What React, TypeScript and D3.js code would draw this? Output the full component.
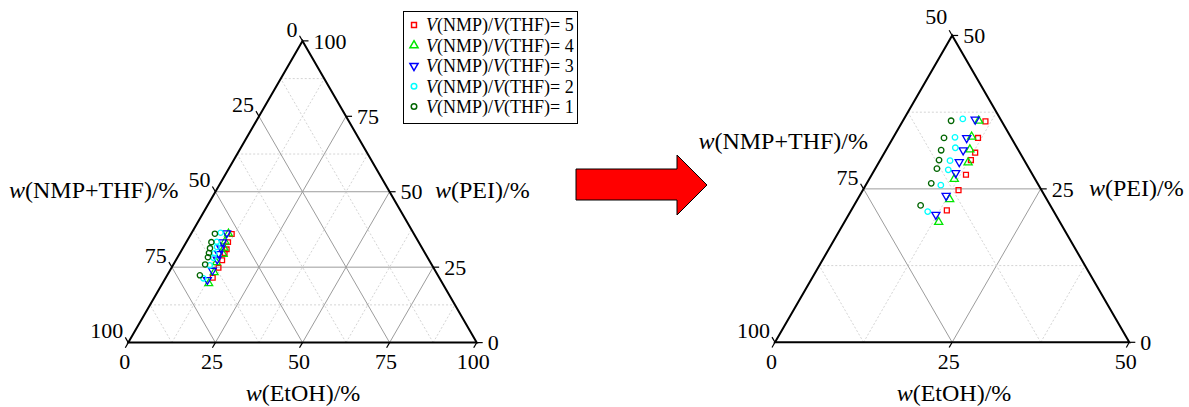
import { useRef, useEffect } from "react";
import * as d3 from "d3";

// series: V(NMP)/V(THF) ratio
const RATIOS = ["5", "4", "3", "2", "1"];
const COLORS = ["#ff0000", "#00e600", "#0000ff", "#00ffff", "#006400"];
const SYMBOLS = ["square", "triangle", "triangleDown", "circle", "circle"];

// w(PEI)/% and w(EtOH)/% for each ratio, w(NMP+THF)/% is the rest
const PEI_R5 = [36.0, 33.3, 30.9, 29.7, 27.3, 24.8, 21.5];
const ETOH_R5 = [11.7, 12.0, 12.8, 12.8, 13.3, 13.5, 13.5];
const PEI_R4 = [36.1, 33.5, 31.4, 29.3, 26.6, 23.3, 19.6];
const ETOH_R4 = [10.7, 11.0, 11.8, 12.6, 12.0, 13.0, 13.3];
const PEI_R3 = [36.3, 33.3, 31.3, 29.4, 27.6, 23.9, 20.8];
const ETOH_R3 = [10.1, 10.4, 10.9, 11.3, 11.7, 12.2, 12.3];
const PEI_R2 = [36.4, 33.4, 31.7, 29.6, 28.1, 25.6, 21.3];
const ETOH_R2 = [8.3, 8.7, 9.6, 9.9, 10.4, 10.6, 10.9];
const PEI_R1 = [36.1, 33.3, 31.3, 29.7, 28.3, 25.9, 22.3];
const ETOH_R1 = [6.8, 7.2, 7.8, 8.3, 8.7, 9.1, 9.4];

const PEI = [PEI_R5, PEI_R4, PEI_R3, PEI_R2, PEI_R1];
const ETOH = [ETOH_R5, ETOH_R4, ETOH_R3, ETOH_R2, ETOH_R1];

const FULL_TICKS = [0, 25, 50, 75, 100];
const ZOOM_TICKS = [0, 25, 50];
const FULL_H_GRID = [12.5, 25, 50, 62.5, 87.5];
const FULL_DIAG_GRID = [12.5, 25, 37.5, 50, 62.5, 75, 87.5];
const ZOOM_GRID = [12.5, 25, 37.5];

const FONT = "'Liberation Serif', 'Times New Roman', serif";

interface Tern {
  x0: number;
  x1: number;
  yBase: number;
  max: number;
  ticks: number[];
  hGrid: number[];
  diagGrid: number[];
  markerSize: number;
  leftTitle: [number, number, string];
  rightTitle: [number, number];
  bottomTitle: [number, number];
}

const LEFT: Tern = {
  x0: 128.3, x1: 476.7, yBase: 342.6, max: 100,
  ticks: FULL_TICKS, hGrid: FULL_H_GRID, diagGrid: FULL_DIAG_GRID,
  markerSize: 22,
  leftTitle: [9, 190, "start"], rightTitle: [435, 190], bottomTitle: [303, 393],
};

const RIGHT: Tern = {
  x0: 775, x1: 1129.3, yBase: 342.3, max: 50,
  ticks: ZOOM_TICKS, hGrid: ZOOM_GRID, diagGrid: ZOOM_GRID,
  markerSize: 24,
  leftTitle: [868, 141, "end"], rightTitle: [1089, 188], bottomTitle: [954, 393],
};

function symbolPath(kind: string, size: number) {
  if (kind === "square") return d3.symbol(d3.symbolSquare, size)()!;
  if (kind === "circle") return d3.symbol(d3.symbolCircle, size)()!;
  return d3.symbol(d3.symbolTriangle, size * 1.2)()!;
}

function title(g: any, x: number, y: number, anchor: string, name: string) {
  const t = g.append("text")
    .attr("x", x).attr("y", y).attr("dy", "0.35em")
    .attr("text-anchor", anchor)
    .attr("font-size", 24);
  t.append("tspan").attr("font-style", "italic").text("w");
  t.append("tspan").text(`(${name})/%`);
}

function drawTernary(svg: any, cfg: Tern) {
  const g = svg.append("g");
  const h = ((cfg.x1 - cfg.x0) * Math.sqrt(3)) / 2;
  const xs = d3.scaleLinear().domain([0, cfg.max]).range([cfg.x0, cfg.x1]);
  const ys = d3.scaleLinear().domain([0, cfg.max]).range([cfg.yBase, cfg.yBase - h]);
  const pt = (e: number, p: number): [number, number] => [xs(e + p / 2), ys(p)];
  const line = d3.line();

  // grid
  const segs: { a: [number, number]; b: [number, number]; major: boolean }[] = [];
  cfg.hGrid.forEach((v) => segs.push({ a: pt(0, v), b: pt(cfg.max - v, v), major: v % 25 === 0 }));
  cfg.diagGrid.forEach((v) => {
    segs.push({ a: pt(v, 0), b: pt(v, cfg.max - v), major: v % 25 === 0 });
    segs.push({ a: pt(v, 0), b: pt(0, v), major: v % 25 === 0 });
  });
  g.selectAll(".grid")
    .data(segs)
    .enter()
    .append("path")
    .attr("d", (d: any) => line([d.a, d.b]))
    .attr("fill", "none")
    .attr("stroke", (d: any) => (d.major ? "#9c9c9c" : "#cfcfcf"))
    .attr("stroke-width", (d: any) => (d.major ? 1 : 0.9))
    .attr("stroke-dasharray", (d: any) => (d.major ? null : "2,2"));

  // outline
  g.append("path")
    .attr("d", line([pt(0, 0), pt(cfg.max, 0), pt(0, cfg.max)]) + "Z")
    .attr("fill", "none")
    .attr("stroke", "#000")
    .attr("stroke-width", 2);

  // ticks + labels
  const tl = 6;
  cfg.ticks.forEach((t) => {
    const b = pt(t, 0);
    g.append("path").attr("d", line([b, [b[0] - tl * 0.5, b[1] + tl * 0.866]])).attr("stroke", "#000").attr("stroke-width", 1.2);
    g.append("text").attr("x", b[0] - 3.5).attr("y", b[1] + 18.5).attr("dy", "0.35em")
      .attr("text-anchor", "middle").attr("font-size", 22).text(t);

    const r = pt(cfg.max - t, t);
    g.append("path").attr("d", line([r, [r[0] + tl, r[1]]])).attr("stroke", "#000").attr("stroke-width", 1.2);
    g.append("text").attr("x", r[0] + 11).attr("y", r[1]).attr("dy", "0.35em")
      .attr("text-anchor", "start").attr("font-size", 22).text(t);

    const l = pt(0, t);
    g.append("path").attr("d", line([l, [l[0] - tl * 0.5, l[1] - tl * 0.866]])).attr("stroke", "#000").attr("stroke-width", 1.2);
    g.append("text").attr("x", l[0] - 5).attr("y", l[1] - (t === cfg.max && cfg.max === 50 ? 19 : 12)).attr("dy", "0.35em")
      .attr("text-anchor", "end").attr("font-size", 22).text(100 - t);
  });

  title(g, cfg.leftTitle[0], cfg.leftTitle[1], cfg.leftTitle[2], "NMP+THF");
  title(g, cfg.rightTitle[0], cfg.rightTitle[1], "start", "PEI");
  title(g, cfg.bottomTitle[0], cfg.bottomTitle[1], "middle", "EtOH");

  // points
  RATIOS.forEach((_, s) => {
    const pts = PEI[s].map((p, i) => ({ p, e: ETOH[s][i] }));
    g.selectAll(`.pt${s}`)
      .data(pts)
      .enter()
      .append("path")
      .attr("d", symbolPath(SYMBOLS[s], cfg.markerSize))
      .attr("transform", (d: any) => {
        const [x, y] = pt(d.e, d.p);
        return `translate(${x},${y})` + (SYMBOLS[s] === "triangleDown" ? " rotate(180)" : "");
      })
      .attr("fill", "none")
      .attr("stroke", COLORS[s])
      .attr("stroke-width", 1.3);
  });
}

export default function App() {
  const ref = useRef<SVGSVGElement>(null);

  useEffect(() => {
    if (!ref.current) return;
    const svg = d3.select(ref.current);
    svg.selectAll("*").remove();
    svg.attr("font-family", FONT).attr("fill", "#000");

    drawTernary(svg, LEFT);
    drawTernary(svg, RIGHT);

    // legend
    const lg = svg.append("g");
    lg.append("rect").attr("x", 403.5).attr("y", 11.5).attr("width", 174).attr("height", 112)
      .attr("fill", "#fff").attr("stroke", "#000").attr("stroke-width", 1);
    RATIOS.forEach((r, i) => {
      const y = 25 + i * 20.4;
      lg.append("path")
        .attr("d", symbolPath(SYMBOLS[i], 24))
        .attr("transform", `translate(414,${y})` + (SYMBOLS[i] === "triangleDown" ? " rotate(180)" : ""))
        .attr("fill", "none").attr("stroke", COLORS[i]).attr("stroke-width", 1.5);
      const t = lg.append("text").attr("x", 426).attr("y", y).attr("dy", "0.35em").attr("font-size", 18);
      t.append("tspan").attr("font-style", "italic").text("V");
      t.append("tspan").text("(NMP)/");
      t.append("tspan").attr("font-style", "italic").text("V");
      t.append("tspan").text(`(THF)= ${r}`);
    });

    // arrow
    svg.append("path")
      .attr("d", "M576,169 L677,169 L677,155 L707,185 L677,215 L677,200 L576,200 Z")
      .attr("fill", "#ff0000").attr("stroke", "#000").attr("stroke-width", 1);
  }, []);

  return (
    <svg
      ref={ref}
      width={1189}
      height={407}
      style={{ position: "absolute", left: 0, top: 0, background: "#fff" }}
    />
  );
}
